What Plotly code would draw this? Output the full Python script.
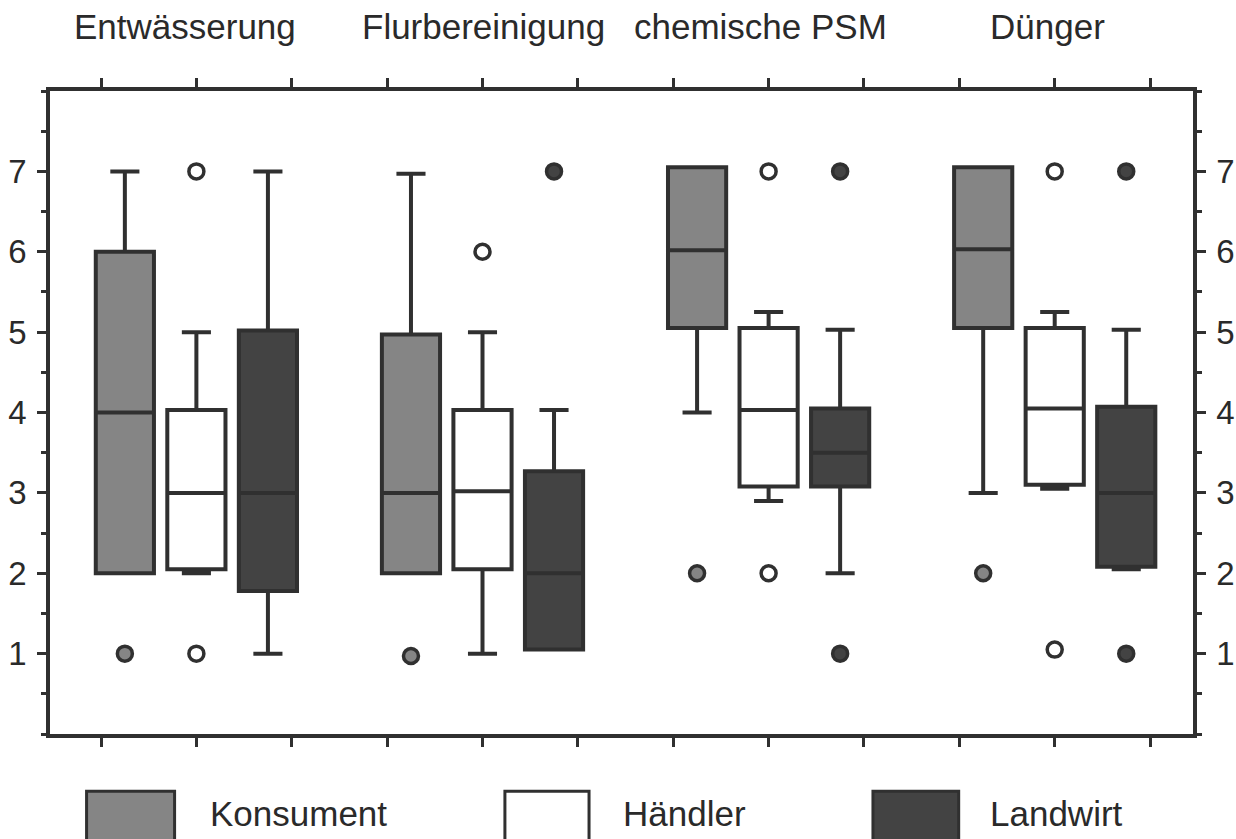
import plotly.graph_objects as go

# categories
groups = ["Entwässerung", "Flurbereinigung", "chemische PSM", "Dünger"]
series = ["Konsument", "Händler", "Landwirt"]
y_ticks = [1, 2, 3, 4, 5, 6, 7]

# box statistics per series, one value per group
konsument_low = [2, 2, 4, 3]
konsument_q1 = [2, 2, 5.05, 5.05]
konsument_med = [4, 3, 6.02, 6.03]
konsument_q3 = [6, 4.97, 7.05, 7.05]
konsument_high = [7, 6.97, 7.05, 7.05]

haendler_low = [2, 1, 2.9, 3.05]
haendler_q1 = [2.05, 2.05, 3.08, 3.1]
haendler_med = [3, 3.02, 4.03, 4.05]
haendler_q3 = [4.03, 4.03, 5.05, 5.05]
haendler_high = [5, 5, 5.25, 5.25]

landwirt_low = [1, 1.05, 2, 2.05]
landwirt_q1 = [1.78, 1.05, 3.08, 2.08]
landwirt_med = [3, 2, 3.5, 3]
landwirt_q3 = [5.02, 3.27, 4.05, 4.07]
landwirt_high = [7, 4.03, 5.03, 5.03]

# outliers: group index and value
konsument_out_g = [0, 1, 2, 3]
konsument_out_y = [1, 0.97, 2, 2]
haendler_out_g = [0, 0, 1, 2, 2, 3, 3]
haendler_out_y = [7, 1, 6, 7, 2, 7, 1.05]
landwirt_out_g = [1, 2, 2, 3, 3]
landwirt_out_y = [7, 7, 1, 7, 1]

LINE = "#303030"
FILLS = ["#858585", "#ffffff", "#434343"]
OFFSETS = [-0.75, 0, 0.75]
FONT = "Arial, Liberation Sans, sans-serif"
TEXT = "#2a2a2a"

stats = [
    (konsument_low, konsument_q1, konsument_med, konsument_q3, konsument_high),
    (haendler_low, haendler_q1, haendler_med, haendler_q3, haendler_high),
    (landwirt_low, landwirt_q1, landwirt_med, landwirt_q3, landwirt_high),
]
outliers = [
    (konsument_out_g, konsument_out_y),
    (haendler_out_g, haendler_out_y),
    (landwirt_out_g, landwirt_out_y),
]

fig = go.Figure()

for i, name in enumerate(series):
    low, q1, med, q3, high = stats[i]
    xs = [3 * g + 1 + OFFSETS[i] for g in range(len(groups))]
    fig.add_trace(go.Box(
        x=xs, lowerfence=low, q1=q1, median=med, q3=q3, upperfence=high,
        name=name, width=0.61, whiskerwidth=0.5,
        fillcolor=FILLS[i], line=dict(color=LINE, width=4),
        boxpoints=False, showlegend=False,
    ))
    og, oy = outliers[i]
    fig.add_trace(go.Scatter(
        x=[3 * g + 1 + OFFSETS[i] for g in og], y=oy, mode="markers",
        marker=dict(size=15, color=FILLS[i], line=dict(color=LINE, width=3.5)),
        showlegend=False,
    ))

# dummy trace so the right-hand axis is drawn
fig.add_trace(go.Scatter(x=[None], y=[None], yaxis="y2", showlegend=False))

# group titles above the frame
title_x = [0.88, 4.01, 6.92, 9.92]
for gx, label in zip(title_x, groups):
    fig.add_annotation(x=gx, xref="x", y=1.1, yref="paper", text=label,
                       showarrow=False, font=dict(size=35, color=TEXT),
                       xanchor="center", yanchor="middle")

# legend drawn by hand at the bottom
legend_swatch = [(0.032, 0.109), (0.398, 0.4716), (0.72, 0.795)]
legend_text_x = [0.138, 0.4996, 0.8206]
for i, name in enumerate(series):
    x0, x1 = legend_swatch[i]
    fig.add_shape(type="rect", xref="paper", yref="paper",
                  x0=x0, x1=x1, y0=-0.18, y1=-0.089,
                  fillcolor=FILLS[i], line=dict(color=LINE, width=3))
    fig.add_annotation(x=legend_text_x[i], xref="paper", y=-0.123, yref="paper",
                       text=name, showarrow=False, xanchor="left", yanchor="middle",
                       font=dict(size=35, color=TEXT))

yaxis_common = dict(
    range=[0, 8], tickvals=y_ticks, ticks="outside", ticklen=9, tickwidth=3,
    tickcolor=LINE, showline=True, linewidth=3.5, linecolor=LINE,
    showgrid=False, zeroline=False, ticklabelstandoff=4, automargin=False,
    tickfont=dict(size=33, color=TEXT),
    minor=dict(dtick=0.5, tick0=0.5, ticks="outside", ticklen=5, tickwidth=3,
               tickcolor=LINE, showgrid=False),
)

fig.update_layout(
    width=1236, height=839,
    margin=dict(l=50, r=43, t=91, b=105),
    paper_bgcolor="white", plot_bgcolor="white",
    font=dict(family=FONT, color=TEXT),
    xaxis=dict(range=[-0.535, 11.45], tickvals=list(range(12)), showticklabels=False,
               ticks="outside", ticklen=9, tickwidth=3, tickcolor=LINE,
               showline=True, linewidth=3.5, linecolor=LINE, mirror="allticks",
               showgrid=False, zeroline=False, automargin=False),
    yaxis=dict(side="left", **yaxis_common),
    yaxis2=dict(side="right", overlaying="y", anchor="x", **yaxis_common),
    boxmode="overlay",
)

fig.write_html("out.html", config={"displayModeBar": False},
               post_script="document.body.style.margin='0';")
